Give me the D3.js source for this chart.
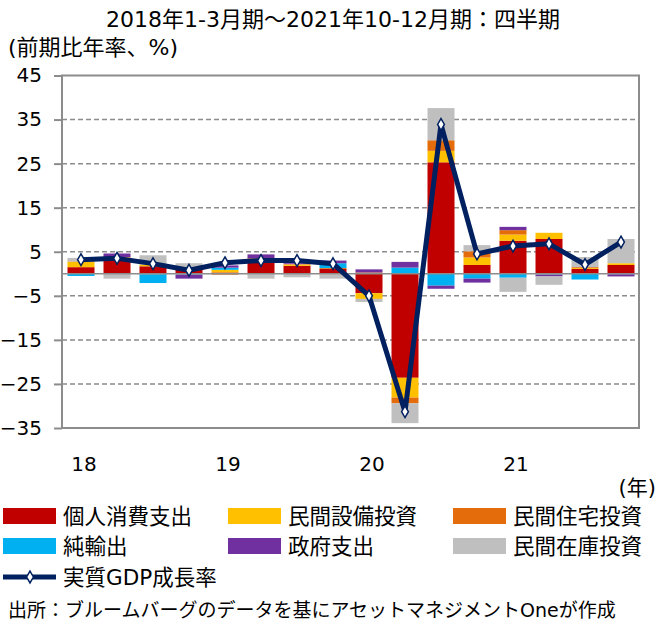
<!DOCTYPE html>
<html>
<head>
<meta charset="utf-8">
<script src="https://cdn.jsdelivr.net/npm/d3@7"></script>
<style>
  body { margin: 0; background: #fff; }
  svg text { font-family: "DejaVu Sans", "Noto Sans CJK JP", sans-serif; fill: #000; }
</style>
</head>
<body>
<script>
// quarters 2018Q1 - 2021Q4
const quarters = ['18Q1','18Q2','18Q3','18Q4','19Q1','19Q2','19Q3','19Q4',
                  '20Q1','20Q2','20Q3','20Q4','21Q1','21Q2','21Q3','21Q4'];
const yearLabels = ['18','19','20','21'];

// contributions (percentage points)
const consumption = [1.5, 3.1, 1.7, 1.1, 0.3, 3.0, 1.8, 1.1, -4.4, -23.6, 25.3, 2.0, 7.5, 7.9, 1.1, 2.0];
const equipment   = [1.2, 0.6, 0.4, 0.1, 0.6, 0.3, 0.3, -0.1, -1.3, -4.5, 2.6, 1.7, 1.4, 1.4, 0.2, 0.4];
const residential = [0.1, 0.1, -0.1, -0.1, -0.2, 0.2, 0.1, 0.2, 0.3, -1.3, 2.4, 1.4, 1.0, -0.1, 0.2, 0.0];
const netExports  = [-0.5, 0.0, -2.0, -0.1, 0.5, -0.1, 0.0, 1.1, 0.0, 1.4, -2.7, -1.1, -0.9, -0.1, -1.3, -0.1];
const government  = [0.0, 0.8, 0.0, -0.9, 0.5, 0.9, 0.2, 0.6, 0.7, 1.3, -0.7, -0.9, 0.75, -0.4, 0.0, -0.5];
const inventories = [0.8, -1.1, 2.1, 1.2, 0.0, -1.0, -0.8, -1.0, -0.7, -4.5, 7.3, 1.4, -3.2, -1.9, 2.3, 5.5];
const gdpGrowth   = [3.2, 3.5, 2.3, 0.8, 2.5, 3.0, 3.0, 2.3, -5.0, -31.3, 33.9, 4.5, 6.3, 6.8, 2.1, 7.2];

const seriesNames = ['個人消費支出','民間設備投資','民間住宅投資','純輸出','政府支出','民間在庫投資'];
const seriesColors = ['#C00000','#FFC000','#E46C0A','#00B0F0','#7030A0','#BFBFBF'];
const yTicks = [-35, -25, -15, -5, 5, 15, 25, 35, 45];

drawChart();

function drawChart(){
  const width = 663, height = 628;
  const plot = {left: 62, right: 639, top: 75.5, bottom: 428};

  const svg = d3.select('body').append('svg')
    .attr('width', width)
    .attr('height', height);

  const keys = ['c','e','r','n','g','i'];
  const cols = [consumption, equipment, residential, netExports, government, inventories];
  const table = quarters.map((q, i) => {
    const row = {q: q};
    keys.forEach((k, j) => row[k] = cols[j][i]);
    return row;
  });

  const xScale = d3.scaleBand()
    .domain(quarters)
    .range([plot.left + 1, plot.right])
    .paddingInner(0.25)
    .paddingOuter(0.125);

  const yScale = d3.scaleLinear()
    .domain([-35, 45])
    .range([plot.bottom, plot.top]);

  // dashed grid
  svg.append('g').selectAll('line')
    .data(yTicks.filter(t => t > -35 && t < 45))
    .enter().append('line')
    .attr('x1', plot.left).attr('x2', plot.right)
    .attr('y1', d => yScale(d)).attr('y2', d => yScale(d))
    .attr('stroke', '#8c8c8c')
    .attr('stroke-width', 1.5)
    .attr('stroke-dasharray', '5,3');

  // stacked bars
  const stack = d3.stack().keys(keys).offset(d3.stackOffsetDiverging);
  const layers = stack(table);

  svg.append('g').selectAll('g')
    .data(layers)
    .enter().append('g')
    .attr('fill', (d, i) => seriesColors[i])
    .selectAll('rect')
    .data(d => d)
    .enter().append('rect')
    .attr('x', d => xScale(d.data.q))
    .attr('width', xScale.bandwidth())
    .attr('y', d => yScale(Math.max(d[0], d[1])))
    .attr('height', d => Math.abs(yScale(d[0]) - yScale(d[1])));

  // zero line
  svg.append('line')
    .attr('x1', plot.left).attr('x2', plot.right)
    .attr('y1', yScale(0)).attr('y2', yScale(0))
    .attr('stroke', '#8c8c8c')
    .attr('stroke-width', 1.5);

  // frame
  svg.append('rect')
    .attr('x', plot.left).attr('y', plot.top)
    .attr('width', plot.right - plot.left)
    .attr('height', plot.bottom - plot.top)
    .attr('fill', 'none')
    .attr('stroke', '#8c8c8c')
    .attr('stroke-width', 2);

  // y axis
  const leftAxis = d3.axisLeft(yScale)
    .tickValues(yTicks)
    .tickSize(8)
    .tickPadding(12)
    .tickFormat(d3.format('d'));
  const yAxisGroup = svg.append('g')
    .attr('transform', `translate(${plot.left}, 0)`)
    .call(leftAxis);
  yAxisGroup.select('.domain').remove();
  yAxisGroup.selectAll('line').attr('stroke', '#8c8c8c').attr('stroke-width', 2);
  yAxisGroup.selectAll('text')
    .attr('font-size', 20)
    .attr('font-family', '"DejaVu Sans", sans-serif');

  // GDP line
  const cx = (d, i) => xScale(quarters[i]) + xScale.bandwidth() / 2;
  const line = d3.line()
    .x(cx)
    .y(d => yScale(d));
  svg.append('path')
    .datum(gdpGrowth)
    .attr('fill', 'none')
    .attr('stroke', '#002060')
    .attr('stroke-width', 5)
    .attr('stroke-linejoin', 'round')
    .attr('d', line);

  const diamond = d3.symbol().type(d3.symbolDiamond).size(40);
  svg.append('g').selectAll('path')
    .data(gdpGrowth)
    .enter().append('path')
    .attr('d', diamond)
    .attr('transform', (d, i) => `translate(${cx(d, i)}, ${yScale(d)})`)
    .attr('fill', '#fff')
    .attr('stroke', '#002060')
    .attr('stroke-width', 1.5);

  // x labels (year at Q1)
  svg.append('g').selectAll('text')
    .data(yearLabels)
    .enter().append('text')
    .attr('x', (d, i) => xScale(quarters[i * 4]) + xScale.bandwidth() / 2 + 3)
    .attr('y', 471)
    .attr('text-anchor', 'middle')
    .attr('font-size', 20)
    .text(d => d);

  svg.append('text')
    .attr('x', 656).attr('y', 495)
    .attr('text-anchor', 'end')
    .attr('font-size', 21)
    .text('(年)');

  // title and unit
  svg.append('text')
    .attr('x', 333).attr('y', 27)
    .attr('text-anchor', 'middle')
    .attr('font-size', 22)
    .text('2018年1-3月期～2021年10-12月期：四半期');

  svg.append('text')
    .attr('x', 8).attr('y', 55)
    .attr('font-size', 22)
    .text('(前期比年率、%)');

  // legend
  const legX = [3, 228, 453];
  const legY = [516, 546];
  const legend = svg.append('g');
  seriesNames.forEach((name, i) => {
    const lx = legX[i % 3], ly = legY[Math.floor(i / 3)];
    legend.append('rect')
      .attr('x', lx).attr('y', ly - 8)
      .attr('width', 53).attr('height', 16)
      .attr('fill', seriesColors[i]);
    legend.append('text')
      .attr('x', lx + 60).attr('y', ly + 8)
      .attr('font-size', 21.5)
      .text(name);
  });

  legend.append('line')
    .attr('x1', 3).attr('x2', 56)
    .attr('y1', 577).attr('y2', 577)
    .attr('stroke', '#002060')
    .attr('stroke-width', 5);
  legend.append('path')
    .attr('d', diamond)
    .attr('transform', 'translate(30, 577)')
    .attr('fill', '#fff')
    .attr('stroke', '#002060')
    .attr('stroke-width', 1.5);
  legend.append('text')
    .attr('x', 63).attr('y', 585)
    .attr('font-size', 21.5)
    .text('実質GDP成長率');

  // source
  svg.append('text')
    .attr('x', 8).attr('y', 617)
    .attr('font-size', 19)
    .text('出所：ブルームバーグのデータを基にアセットマネジメントOneが作成');
}
</script>
</body>
</html>
